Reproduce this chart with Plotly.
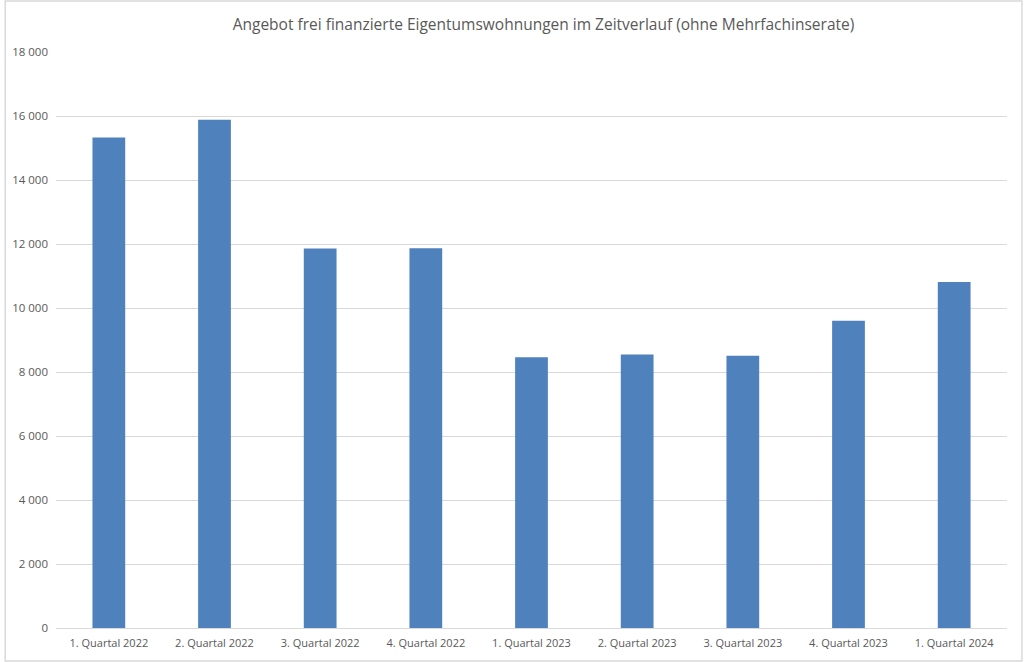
import plotly.graph_objects as go

categories = ["1. Quartal 2022", "2. Quartal 2022", "3. Quartal 2022", "4. Quartal 2022",
              "1. Quartal 2023", "2. Quartal 2023", "3. Quartal 2023", "4. Quartal 2023",
              "1. Quartal 2024"]
values = [15330, 15880, 11860, 11870, 8460, 8550, 8510, 9600, 10810]
y_ticks = [0, 2000, 4000, 6000, 8000, 10000, 12000, 14000, 16000, 18000]

title_text = "Angebot frei finanzierte Eigentumswohnungen im Zeitverlauf (ohne Mehrfachinserate)"

W, H = 1024, 662
ml, mr, mt, mb = 52, 17, 52, 34
pw, ph = W - ml - mr, H - mt - mb

fig = go.Figure(go.Bar(
    x=categories, y=values,
    marker=dict(color="#4F81BD", line=dict(width=0)),
))

fig.update_layout(
    width=W, height=H,
    margin=dict(l=ml, r=mr, t=mt, b=mb, pad=0),
    paper_bgcolor="white", plot_bgcolor="white",
    separators=", ",
    bargap=0.69,
    showlegend=False,
    font=dict(family="Open Sans, Liberation Sans, sans-serif", color="#595959", size=11),
    title=dict(text=title_text, x=543.5 / W, xanchor="center", y=1 - 25 / H, yanchor="middle",
               font=dict(size=15.5, color="#595959")),
    xaxis=dict(showgrid=False, showline=False, ticks="", tickfont=dict(size=11),
               ticklabelstandoff=7),
    yaxis=dict(range=[0, 18000], tickvals=y_ticks, tickformat=",d",
               showgrid=True, gridcolor="#D9D9D9", gridwidth=1,
               zeroline=True, zerolinecolor="#D9D9D9", zerolinewidth=1,
               showline=False, ticks="", ticklabelstandoff=7, tickfont=dict(size=11.5)),
    shapes=[dict(type="rect", xref="paper", yref="paper",
                 x0=(1 - ml) / pw, x1=(W - 2 - ml) / pw,
                 y0=(1 - mb) / ph, y1=(H - 1 - mb) / ph,
                 line=dict(color="#D9D9D9", width=1.5), fillcolor="rgba(0,0,0,0)", layer="below")],
)

fig.write_html("out.html", config={"displayModeBar": False},
               post_script="document.body.style.margin='0';document.body.style.overflow='hidden';")
